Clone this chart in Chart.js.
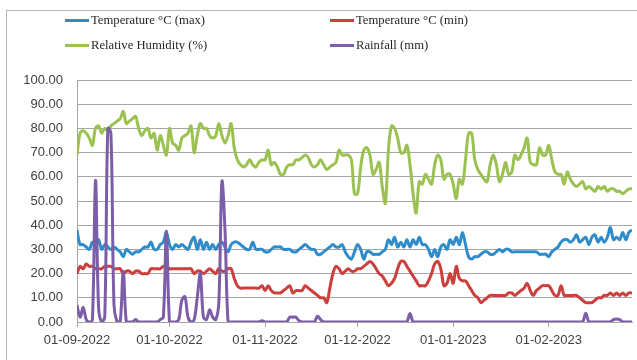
<!DOCTYPE html>
<html>
<head>
<meta charset="utf-8">
<script src="https://cdn.jsdelivr.net/npm/chart.js@4"></script>
<style>
  html,body{margin:0;padding:0;background:#fff;}
  #wrap{position:relative;width:637px;height:360px;overflow:hidden;background:#fff;}
  #frame{position:absolute;left:6px;top:10px;width:640px;height:360px;border:1px solid #b8b8b8;box-sizing:border-box;}
  #c{position:absolute;left:0;top:0;}
  .lg{position:absolute;font-family:"Liberation Serif","Times New Roman",serif;font-size:12.7px;color:#262626;white-space:nowrap;line-height:16px;}
  .lg i{display:inline-block;width:24px;height:3px;vertical-align:middle;margin-right:2px;position:relative;top:-1px;}
</style>
</head>
<body>
<div id="wrap">
  <div id="frame"></div>
  <canvas id="c" width="637" height="360"></canvas>
  <div id="legend"></div>
</div>
<script>
// ---- data (one value per day, 01-09-2022 .. 28-02-2023) ----
const seriesNames = ["Temperature °C (max)", "Temperature °C (min)", "Relative Humidity (%)", "Rainfall (mm)"];
const monthTickDays = [0, 30, 61, 91, 122, 153];
const monthLabels = ["01-09-2022", "01-10-2022", "01-11-2022", "01-12-2022", "01-01-2023", "01-02-2023"];
const yTicks = [0, 10, 20, 30, 40, 50, 60, 70, 80, 90, 100];

const tempMax = [
38,32,32,31,30,33,31,34,30,32, 31,30,31,30,29,27,30,29,28,29,
29,30,31,31,33,30,30,32,33,37, 32,30,32,31,32,31,30,33,35,30,
34,30,33,30,32,30,32,33,31,29, 32,33,33,32,31,30,30,33,30,30,
30,29,29,30,31,31,31,30,30,30, 29,29,30,31,32,31,30,30,28,28,
29,30,31,32,31,31,32,29,27,26, 29,32,30,26,29,29,28,28,28,29,
30,34,32,35,31,33,31,34,31,34, 32,35,32,32,30,27,30,27,31,32,
30,34,32,35,32,37,32,27,26,27, 27,28,29,29,28,28,29,30,29,30,
30,29,29,29,29,29,29,29,29,29, 28,28,28,27,29,30,31,33,34,34,
33,34,36,33,34,35,32,35,36,33, 35,33,35,39,34,35,34,37,34,37,
38];

const tempMin = [
20,23,22,24,23,23,22,22,22,23, 23,23,22,22,22,20,21,21,20,21,
21,20,20,20,22,22,22,22,23,23, 22,22,22,22,22,22,22,22,20,21,
21,20,21,22,21,20,22,21,21,22, 22,18,15,14,14,14,14,14,14,14,
15,13,15,13,12,12,12,13,14,15, 12,13,13,13,15,14,13,12,11,10,
10,8,14,20,23,22,20,21,22,21, 21,22,22,23,24,25,24,22,20,19,
17,15,16,18,22,25,25,23,21,19, 17,15,15,15,17,20,24,25,22,15,
16,20,16,23,18,17,17,15,13,11, 10,8,9,10,11,11,11,11,11,11,
12,12,11,12,13,14,16,13,11,13, 14,15,15,15,13,11,11,15,11,11,
11,11,11,10,9,8,8,8,9,10, 10,11,11,12,11,12,11,12,11,12,
12];

const humidity = [
69,78,79,78,76,73,80,81,78,80, 79,81,82,83,84,87,82,83,84,85,
80,77,79,80,76,78,71,77,73,69, 80,74,73,71,76,77,78,81,70,77,
82,80,80,77,76,77,82,77,74,77, 82,72,67,65,64,65,67,65,64,66,
67,67,71,65,66,64,61,61,64,65, 65,67,67,68,69,68,65,64,65,67,
65,63,64,65,66,71,69,69,69,67, 53,53,64,71,72,69,61,63,66,56,
49,71,81,80,76,70,70,73,65,53, 45,58,57,61,59,57,65,69,67,59,
61,61,57,51,59,57,67,78,78,67, 63,61,59,58,65,69,65,58,61,66,
61,62,69,67,69,72,76,66,65,65, 72,69,69,73,67,62,61,61,57,62,
59,57,56,57,58,55,56,55,54,56, 55,56,54,55,55,54,54,53,54,55,
55];

const rainfall = [
7,2,6,1,0,1,58.5,6,0,2, 80,78,7,0,0,21,0,0,0,1,
0,0,0,0,0,0,0,1,2,37.5, 0,0,0,1,9,10.5,2,0,1,10,
20,2,1,5,2,1,8,58,38,0, 0,0,0,0,0,0,0,0,0,0,
0.5,0,0,0,0,0,0,0,0,2, 2,2,0.5,0,0,0,0,0,2.4,1,
0,0,0,0,0,0,0,0,0,0, 0,0,0,0,0,0,0,0,0,0,
0,0,0,0,0,0,0,0,3.5,0, 0,0,0,0,0,0,0,0,0,0,
0,0,0,0,0,0,0,0,0,0, 0,0,0,0,0,0,0,0,0,0,
0,0,0,0,0,0,0,0,0,0, 0,0,0,0,0,0,0,0,0,0,
0,0,0,0,0,3.6,0,0,0,0, 0,0,0,0,1,1.2,1,0,0,0,
0];

const colors = ["#2f8ccb", "#cc3f3c", "#9bc150", "#7b5ea7"];
const allSeries = [tempMax, tempMin, humidity, rainfall];

// ---- HTML legend ----
const legendPos = [[65, 12], [330, 12], [65, 37], [330, 37]];
const lg = document.getElementById('legend');
seriesNames.forEach((n, i) => {
  const d = document.createElement('div');
  d.className = 'lg';
  d.style.left = legendPos[i][0] + 'px';
  d.style.top = legendPos[i][1] + 'px';
  d.innerHTML = '<i style="background:' + colors[i] + '"></i>' + n;
  lg.appendChild(d);
});

// ---- chart ----
const toPoints = arr => arr.map((v, i) => ({x: i, y: v}));
const orders = [3, 2, 1, 0];
new Chart(document.getElementById('c'), {
  type: 'line',
  data: {
    datasets: allSeries.map((arr, i) => ({
      label: seriesNames[i],
      data: toPoints(arr),
      borderColor: colors[i],
      backgroundColor: colors[i],
      borderWidth: 3,
      pointRadius: 0,
      tension: 0.35,
      order: orders[i],
      fill: false
    }))
  },
  options: {
    responsive: false,
    animation: false,
    layout: {padding: {left: 8, right: 5, top: 80, bottom: 0}},
    plugins: {legend: {display: false}, tooltip: {enabled: false}},
    scales: {
      x: {
        type: 'linear',
        min: 0,
        max: 180,
        afterBuildTicks: s => { s.ticks = monthTickDays.map(v => ({value: v})); },
        afterFit: s => { s.height = 38; },
        border: {display: true, color: '#a6a6a6', width: 1},
        grid: {drawOnChartArea: false, drawTicks: true, tickLength: 5, color: '#a6a6a6'},
        ticks: {
          autoSkip: false, maxRotation: 0, padding: 6,
          color: '#404040',
          font: {family: 'Liberation Sans, Arial, sans-serif', size: 13},
          callback: v => monthLabels[monthTickDays.indexOf(v)]
        }
      },
      y: {
        min: 0,
        max: 100,
        afterBuildTicks: s => { s.ticks = yTicks.map(v => ({value: v})); },
        afterFit: s => { s.width = 69; },
        border: {display: true, color: '#a6a6a6', width: 1},
        grid: {color: '#a6a6a6', lineWidth: 1, drawTicks: false},
        ticks: {
          padding: 14,
          color: '#404040',
          font: {family: 'Liberation Sans, Arial, sans-serif', size: 13},
          callback: v => v.toFixed(2)
        }
      }
    }
  }
});
</script>
</body>
</html>
